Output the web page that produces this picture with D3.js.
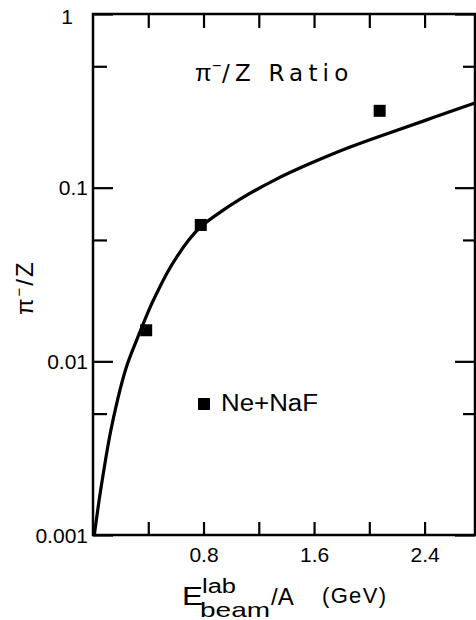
<!DOCTYPE html>
<html>
<head>
<meta charset="utf-8">
<script src="https://cdn.jsdelivr.net/npm/d3@7/dist/d3.min.js"></script>
<style>
  html, body { margin: 0; padding: 0; background: #fff; }
  svg { display: block; }
  text { font-family: "Liberation Sans", Arial, sans-serif; fill: #000; }
</style>
</head>
<body>
<svg id="chart" width="476" height="620"></svg>
<script>
// ---- data ----
const curveE = [0.0094, 0.0434, 0.0818, 0.123, 0.176, 0.237, 0.297, 0.345, 0.413, 0.473, 0.533, 0.606, 0.690, 0.774, 0.872, 1.049, 1.305, 1.571, 1.860, 2.101, 2.415, 2.765];
const curveRatio = [0.001, 0.00159, 0.00246, 0.00386, 0.00599, 0.00927, 0.01214, 0.01514, 0.02064, 0.02575, 0.03213, 0.04004, 0.04995, 0.0596, 0.06806, 0.08492, 0.1107, 0.1381, 0.1722, 0.201, 0.2455, 0.3073];
const dataE = [0.385, 0.78, 2.075];
const dataRatio = [0.0151, 0.061, 0.277];
const xTicks = [0.4, 0.8, 1.2, 1.6, 2.0, 2.4];
const xTickLabels = ["", "0.8", "", "1.6", "", "2.4"];
const yMajorTicks = [1, 0.1, 0.01, 0.001];
const yMajorLabels = ["1", "0.1", "0.01", "0.001"];
const yMinorTicks = [0.5, 0.05, 0.005];
const legendLabel = "Ne+NaF";

// ---- layout ----
const svg = d3.select("#chart");
const L = 93, R = 475, T = 14, B = 535;
const x = d3.scaleLinear().domain([0, 2.765]).range([L, R]);
const y = d3.scaleLog().domain([0.001, 1]).range([B, T]);

// frame
svg.append("rect").attr("x", L).attr("y", T).attr("width", R - L).attr("height", B - T)
  .attr("fill", "none").attr("stroke", "#000").attr("stroke-width", 2.5);

// x ticks bottom and top (inward)
const xAxisB = d3.axisBottom(x).tickValues(xTicks).tickSize(-13).tickFormat((d, i) => xTickLabels[i]).tickPadding(18);
const gxb = svg.append("g").attr("transform", `translate(0,${B})`).call(xAxisB);
const xAxisT = d3.axisTop(x).tickValues(xTicks).tickSize(-14).tickFormat("");
const gxt = svg.append("g").attr("transform", `translate(0,${T})`).call(xAxisT);

// y ticks left
const gyl = svg.append("g").attr("transform", `translate(${L},0)`)
  .call(d3.axisRight(y).tickValues(yMajorTicks).tickSize(20).tickFormat(""));
const gyl2 = svg.append("g").attr("transform", `translate(${L},0)`)
  .call(d3.axisRight(y).tickValues(yMinorTicks).tickSize(14).tickFormat(""));
// y ticks right
const gyr = svg.append("g").attr("transform", `translate(${R},0)`)
  .call(d3.axisLeft(y).tickValues(yMajorTicks).tickSize(20).tickFormat(""));
const gyr2 = svg.append("g").attr("transform", `translate(${R},0)`)
  .call(d3.axisLeft(y).tickValues(yMinorTicks).tickSize(12).tickFormat(""));

[gxb, gxt, gyl, gyl2, gyr, gyr2].forEach(g => {
  g.select(".domain").remove();
  g.selectAll(".tick line").attr("stroke", "#000").attr("stroke-width", 2.2);
});
gxb.selectAll(".tick text").attr("font-size", 21).attr("font-family", "Liberation Sans, Arial, sans-serif").attr("fill", "#000").attr("dy", "0.72em").attr("y", 12);

// y tick labels
svg.append("g").selectAll("text").data(yMajorTicks).join("text")
  .attr("x", d => d === 1 ? 73 : 88)
  .attr("y", d => y(d) + (d === 1 ? 4 : 2))
  .attr("text-anchor", "end").attr("dominant-baseline", "middle")
  .attr("font-size", 21)
  .text((d, i) => yMajorLabels[i]);

// curve
const line = d3.line().x(d => x(d[0])).y(d => y(d[1])).curve(d3.curveBasis);
svg.append("path").datum(curveE.map((e, i) => [e, curveRatio[i]]))
  .attr("d", line).attr("fill", "none").attr("stroke", "#000").attr("stroke-width", 3.2);

// data squares
const sz = 12;
svg.append("g").selectAll("rect").data(dataE.map((e, i) => [e, dataRatio[i]])).join("rect")
  .attr("x", d => x(d[0]) - sz / 2).attr("y", d => y(d[1]) - sz / 2)
  .attr("width", sz).attr("height", sz).attr("fill", "#000");

// legend
svg.append("rect").attr("x", 198).attr("y", 398).attr("width", 12).attr("height", 12).attr("fill", "#000");
svg.append("text").attr("x", 221).attr("y", 411).attr("font-size", 23)
  .attr("textLength", 97).attr("lengthAdjust", "spacingAndGlyphs").text(legendLabel);

// title
svg.append("text").attr("x", 195).attr("y", 81).attr("font-size", 24).text("π");
svg.append("text").attr("x", 212).attr("y", 71).attr("font-size", 16).text("−");
svg.append("text").attr("x", 222).attr("y", 81).attr("font-size", 23)
  .style("font-family", "'DejaVu Sans', sans-serif").attr("letter-spacing", 5.2).text("/Z Ratio");

// y-axis title
const yt = svg.append("text").attr("transform", "translate(33,315) rotate(-90)").attr("font-size", 24).attr("letter-spacing", 2);
yt.append("tspan").text("π");
yt.append("tspan").attr("dy", -9).attr("font-size", 15).text("−");
yt.append("tspan").attr("dy", 9).text("/Z");

// x-axis title
svg.append("text").attr("x", 182).attr("y", 605).attr("font-size", 25)
  .attr("textLength", 21).attr("lengthAdjust", "spacingAndGlyphs").text("E");
svg.append("text").attr("x", 202).attr("y", 593).attr("font-size", 20)
  .attr("textLength", 34).attr("lengthAdjust", "spacingAndGlyphs").text("lab");
svg.append("text").attr("x", 200).attr("y", 617).attr("font-size", 21)
  .attr("textLength", 70).attr("lengthAdjust", "spacingAndGlyphs").text("beam");
svg.append("text").attr("x", 271).attr("y", 605).attr("font-size", 24).text("/A");
svg.append("text").attr("x", 322).attr("y", 603).attr("font-size", 22)
  .attr("textLength", 64).attr("lengthAdjust", "spacing").text("(GeV)");
</script>
</body>
</html>
